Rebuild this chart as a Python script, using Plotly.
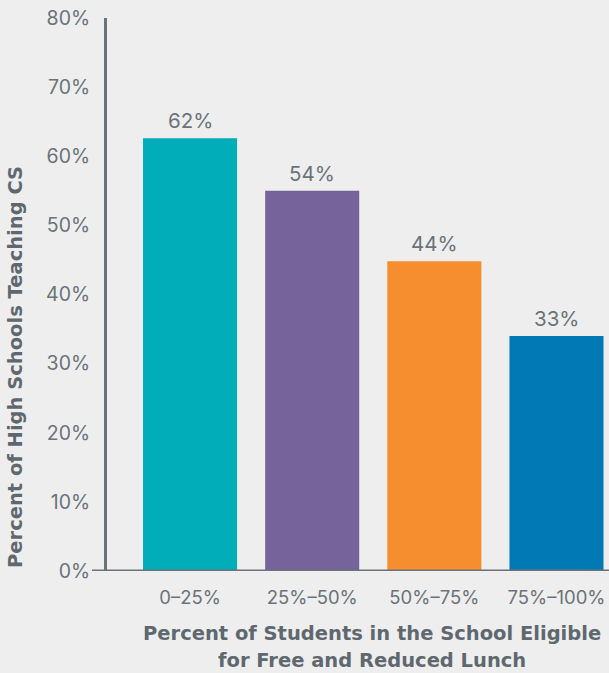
import plotly.graph_objects as go

categories = ["0–25%", "25%–50%", "50%–75%", "75%–100%"]
values = [62.6, 55.0, 44.8, 34.0]
labels = ["62%", "54%", "44%", "33%"]
colors = ["#00adb9", "#77639c", "#f68d2e", "#0079b4"]
y_ticks = [0, 10, 20, 30, 40, 50, 60, 70, 80]
y_tick_text = [f"{v}%" for v in y_ticks]
x_title_lines = ["Percent of Students in the School Eligible", "for Free and Reduced Lunch"]
y_title = "Percent of High Schools Teaching CS"

FONT = "Inter, Lato, sans-serif"
TFONT = "DejaVu Sans, sans-serif"
GRAY = "#6b737a"
TGRAY = "#5f686f"
BG = "#eeeeee"

W, H = 609, 673
L, R, T, B = 107, 0, 18, 102
PW, PH = W - L - R, H - T - B

def px_to_paper_x(px):
    return (px - L) / PW

def px_to_paper_y(py):
    return (H - B - py) / PH

fig = go.Figure(go.Bar(
    x=list(range(len(categories))), y=values,
    marker=dict(color=colors, line=dict(width=0)),
    width=0.77, hoverinfo="skip",
))

for i, (v, t) in enumerate(zip(values, labels)):
    fig.add_annotation(x=i, y=v, text=t, showarrow=False, yanchor="bottom",
                       yshift=3, font=dict(family=FONT, size=20.5, color=GRAY))

for line, cy in zip(x_title_lines, [633, 660]):
    fig.add_annotation(xref="paper", yref="paper", x=px_to_paper_x(372), y=px_to_paper_y(cy),
                       text=f"<b>{line}</b>", showarrow=False, yanchor="middle",
                       font=dict(family=TFONT, size=19.5, color=TGRAY))

fig.add_annotation(xref="paper", yref="paper", x=px_to_paper_x(15), y=px_to_paper_y(367),
                   text=f"<b>{y_title}</b>",
                   showarrow=False, textangle=-90, xanchor="center", yanchor="middle",
                   font=dict(family=TFONT, size=19.5, color=TGRAY))

# baseline extended slightly left of the y axis
fig.add_shape(type="line", xref="paper", yref="y", x0=px_to_paper_x(92), x1=1, y0=0, y1=0,
              line=dict(color=GRAY, width=3), layer="above")

fig.update_layout(
    width=W, height=H,
    margin=dict(l=L, r=R, t=T, b=B, pad=0),
    paper_bgcolor=BG, plot_bgcolor=BG,
    showlegend=False,
    xaxis=dict(range=[-0.68, 3.43], tickmode="array",
               tickvals=list(range(len(categories))), ticktext=categories,
               showgrid=False, zeroline=False, showline=False,
               ticks="", ticklabelstandoff=13,
               tickfont=dict(family=FONT, size=18.5, color=GRAY)),
    yaxis=dict(range=[0, 80], tickmode="array", tickvals=y_ticks, ticktext=y_tick_text,
               showgrid=False, zeroline=False, showline=True, linecolor=GRAY, linewidth=3,
               ticks="", ticklabelstandoff=10,
               tickfont=dict(family=FONT, size=19.5, color=GRAY)),
)

fig.write_html("out.html", config={"displayModeBar": False},
               post_script="document.body.style.margin='0';document.body.style.background='#eeeeee';")
